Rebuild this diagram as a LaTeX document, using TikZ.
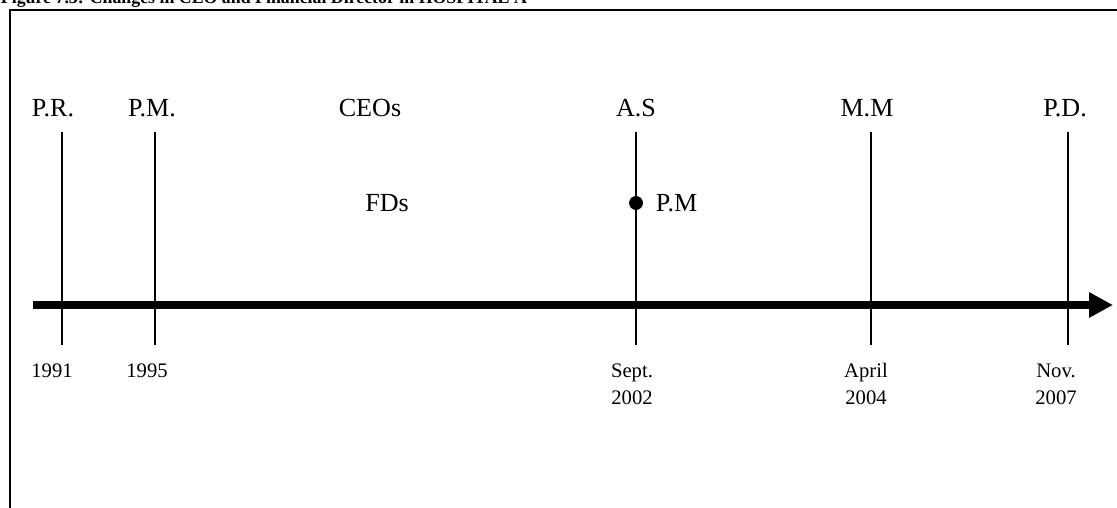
\documentclass[tikz,border=0pt]{standalone}
\usepackage{fontspec}
\setmainfont{Liberation Serif}
\usetikzlibrary{arrows.meta,positioning}
\begin{document}
\begin{tikzpicture}
[x=0.46pt, y=-0.46pt, line width=0.9pt,
person/.style={font=\fontsize{12}{14}\selectfont, anchor=base, inner sep=0pt},
date/.style={font=\fontsize{9.5}{12}\selectfont, align=center, anchor=base, inner sep=0pt},
event/.style={circle, fill, inner sep=0pt, minimum size=6.4pt}]

\useasboundingbox (0,0) rectangle (1117,508);

% title and frame
\node[font=\fontsize{8.2}{10}\selectfont\bfseries, anchor=base west, inner sep=0pt] (title) at (0,3)
    {Figure 7.3: Changes in CEO and Financial Director in HOSPITAL A};
\coordinate (fr1) at (10,508);
\coordinate (fr2) at (10,10);
\coordinate (fr3) at (1125,10);
\draw[line width=1pt] (fr1) -- (fr2) -- (fr3);

% time axis
\coordinate (ax0) at (33,305);
\coordinate (ax1) at (1113,305);
\draw[line width=3.9pt, -{Triangle[length=11pt,width=11pt]}] (ax0) -- (ax1);

% CEOs
\node[person] (ceohead) at (370,116.7) {CEOs};
\foreach \i/\x/\tx/\nm in {1/62/53/P.R., 2/155/152/P.M., 3/636/636/A.S, 4/871/867/M.M, 5/1068/1065/P.D.} {
    \node[person] (ceo\i) at (\tx,116.7) {\nm};
    \coordinate (top\i) at (\x,132);
    \coordinate (bot\i) at (\x,345);
    \draw (top\i) -- (bot\i);
}

% FDs
\node[person] (fdhead) at (387,211) {FDs};
\node[event] (fdpm) at (636,203) {};
\node[person, anchor=base west] (fdpmlbl) at (655,211) {P.M};

% dates (base = last line)
\foreach \i/\x/\y/\d in {1/52/377/1991, 2/147/377/1995, 3/632/404/Sept.\\2002, 4/866/404/April\\2004, 5/1056/404/Nov.\\2007} {
    \node[date] (date\i) at (\x,\y) {\d};
}

\end{tikzpicture}
\end{document}
